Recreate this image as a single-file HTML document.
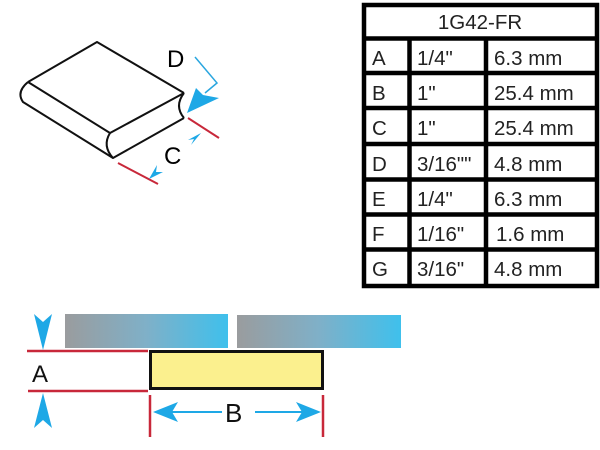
<!DOCTYPE html>
<html><head><style>
html,body{margin:0;padding:0;background:#fff;}
svg{display:block;}
text{font-family:"Liberation Sans",sans-serif;}
</style></head><body>
<svg width="600" height="450" viewBox="0 0 600 450">
<defs>
<linearGradient id="g" x1="0" y1="0" x2="1" y2="0">
<stop offset="0" stop-color="#9a9c9e"/><stop offset="0.5" stop-color="#7fb0c8"/><stop offset="1" stop-color="#3fc0ec"/>
</linearGradient>
</defs>
<g fill="none" stroke="#111" stroke-width="2" stroke-linejoin="round">
<path d="M28,82 L97,42 L184,93"/>
<path d="M28,82 L110,133 L184,93"/>
<path d="M28,82 Q16,92 23,102 L113,158 L184,118"/>
<path d="M110,133 Q102,146 113,158"/>
<path d="M184,93 Q174,106 184,118"/>
</g>
<text x="167" y="67" font-size="24">D</text>
<text x="164" y="164" font-size="24">C</text>
<polyline points="195,57 217,83 205,93" fill="none" stroke="#2aa6df" stroke-width="1.5"/>
<polygon points="187,113 196,88 203,95 219,98" fill="#1ea8e6"/>
<line x1="118" y1="163" x2="158" y2="184" stroke="#c8283a" stroke-width="2"/>
<line x1="188" y1="118" x2="219" y2="138" stroke="#c8283a" stroke-width="2"/>
<polygon points="149,179 157,165 156,172 163,172" fill="#1ea8e6"/>
<polygon points="201,133 191,145 194,139 188,140" fill="#1ea8e6"/>
<g fill="none" stroke="#000" stroke-width="4.5">
<rect x="364" y="5" width="233" height="281"/>
<line x1="364" y1="38.5" x2="597" y2="38.5"/>
<line x1="364" y1="73" x2="597" y2="73"/>
<line x1="364" y1="108" x2="597" y2="108"/>
<line x1="364" y1="144" x2="597" y2="144"/>
<line x1="364" y1="179.5" x2="597" y2="179.5"/>
<line x1="364" y1="214.5" x2="597" y2="214.5"/>
<line x1="364" y1="249.5" x2="597" y2="249.5"/>
<line x1="409.5" y1="38.5" x2="409.5" y2="286"/>
<line x1="486" y1="38.5" x2="486" y2="286"/>
</g>
<g font-size="20.5" fill="#222">
<text x="480" y="29" text-anchor="middle">1G42-FR</text>
<text x="372" y="65">A</text><text x="417" y="65">1/4"</text><text x="494" y="65">6.3 mm</text>
<text x="372" y="100">B</text><text x="417" y="100">1"</text><text x="494" y="100">25.4 mm</text>
<text x="372" y="135">C</text><text x="417" y="135">1"</text><text x="494" y="135">25.4 mm</text>
<text x="372" y="171">D</text><text x="417" y="171">3/16""</text><text x="494" y="171">4.8 mm</text>
<text x="372" y="206">E</text><text x="417" y="206">1/4"</text><text x="494" y="206">6.3 mm</text>
<text x="372" y="241">F</text><text x="417" y="241">1/16"</text><text x="496" y="241">1.6 mm</text>
<text x="372" y="276">G</text><text x="417" y="276">3/16"</text><text x="494" y="276">4.8 mm</text>
</g>
<rect x="65" y="314" width="163" height="34" fill="url(#g)"/>
<rect x="237" y="315" width="164" height="33" fill="url(#g)"/>
<rect x="150.5" y="351.5" width="172" height="37" fill="#fbf08e" stroke="#111" stroke-width="3"/>
<line x1="27" y1="351" x2="148" y2="351" stroke="#c8283a" stroke-width="2.5"/>
<line x1="28" y1="391" x2="148" y2="391" stroke="#c8283a" stroke-width="2.5"/>
<line x1="150" y1="395" x2="150" y2="437" stroke="#c8283a" stroke-width="2.5"/>
<line x1="323" y1="395" x2="323" y2="437" stroke="#c8283a" stroke-width="2.5"/>
<polygon points="34,314 43,322 52,314 43,350" fill="#1ea8e6"/>
<polygon points="34,428 43,420 52,428 43,393" fill="#1ea8e6"/>
<text x="32" y="382" font-size="24" fill="#111">A</text>
<line x1="165" y1="412" x2="222" y2="412" stroke="#1ea8e6" stroke-width="2"/>
<line x1="255" y1="412" x2="308" y2="412" stroke="#1ea8e6" stroke-width="2"/>
<polygon points="153,412 178,402 172,412 178,422" fill="#1ea8e6"/>
<polygon points="321,412 296,402 302,412 296,422" fill="#1ea8e6"/>
<text x="225" y="422" font-size="26" fill="#111">B</text>
</svg>
</body></html>
